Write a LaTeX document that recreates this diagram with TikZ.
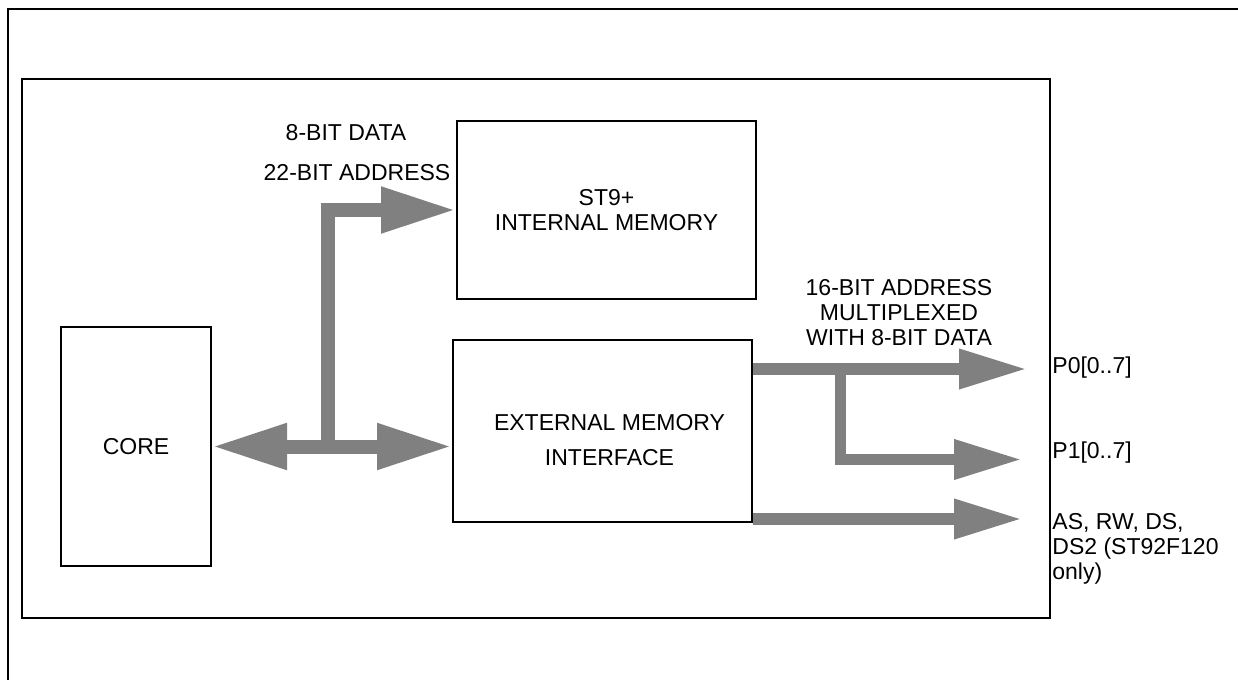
\documentclass[tikz,border=0pt]{standalone}
\usepackage{fontspec}
\setmainfont{Liberation Sans}
\usetikzlibrary{arrows.meta}

\definecolor{busgray}{RGB}{128,128,128}

\tikzset{
  blockbox/.style={draw, line width=1pt, align=center, inner sep=0pt},
  frameline/.style={line width=1.4pt},
  tag/.style={inner sep=0pt, align=center},
  bus/.style={draw=busgray, line width=7pt, -{Triangle[length=37.5pt,width=21.5pt]}},
  bibus/.style={draw=busgray, line width=7pt, {Triangle[length=37.5pt,width=21.5pt]}-{Triangle[length=37.5pt,width=21.5pt]}},
  portbus/.style={draw=busgray, line width=5.75pt, -{Triangle[length=34pt,width=18.75pt]}}
}

\begin{document}
\begin{tikzpicture}[x=0.5pt, y=-0.5pt, font=\fontsize{11.5}{12.5}\selectfont]
      \useasboundingbox (0,0) rectangle (1238,680);

      % Draw the outer and inner frames
      \draw[frameline] (8,680) -- (8,9) -- (1238,9);
      \draw[frameline] (22,79) rectangle (1050,618);

      % Add the blocks
      \node[blockbox, minimum width=75pt, minimum height=119.5pt] (core) at (136,446.5) {CORE};
      \node[blockbox, minimum width=149.5pt, minimum height=89pt] (mem) at (606.5,210) {ST9+\\INTERNAL MEMORY};
      \node[blockbox, minimum width=149.5pt, minimum height=91pt] (emi) at (602.5,431) {};
      \node[tag, font=\fontsize{11.5}{17.5}\selectfont] (emitxt) at ([xshift=3.5pt,yshift=-4.5pt]emi.center) {EXTERNAL MEMORY\\INTERFACE};

      % Add the bus labels
      \node[tag] (lbldata) at (346,132.5) {8-BIT DATA};
      \node[tag] (lbladdr) at (357,172.5) {22-BIT ADDRESS};
      \node[tag] (lblmux) at (899,312.5) {16-BIT ADDRESS\\MULTIPLEXED\\WITH 8-BIT DATA};
      \node[tag, anchor=west] (p0) at (1052,368) {P0[0..7]};
      \node[tag, anchor=west] (p1) at (1052,453) {P1[0..7]};
      \node[tag, anchor=north west, align=left] (sig) at (1052,513) {AS, RW, DS,\\DS2 (ST92F120\\only)};

      % Arrow ends and branch points
      \coordinate (jn) at (328,447);
      \coordinate (br) at (840.5,369);
      \coordinate (p0in) at (1027,369);
      \coordinate (p1in) at (1022,459.5);
      \coordinate (sigin) at (1022,519);

      % Draw the buses
      \draw[bibus] (core.east) -- (core.east -| emi.west);
      \draw[bus] (jn) |- (mem.west);
      \draw[portbus] (emi.east |- p0in) -- (p0in);
      \draw[portbus] (br) |- (p1in);
      \draw[portbus] (emi.east |- sigin) -- (sigin);

    \end{tikzpicture}
\end{document}
